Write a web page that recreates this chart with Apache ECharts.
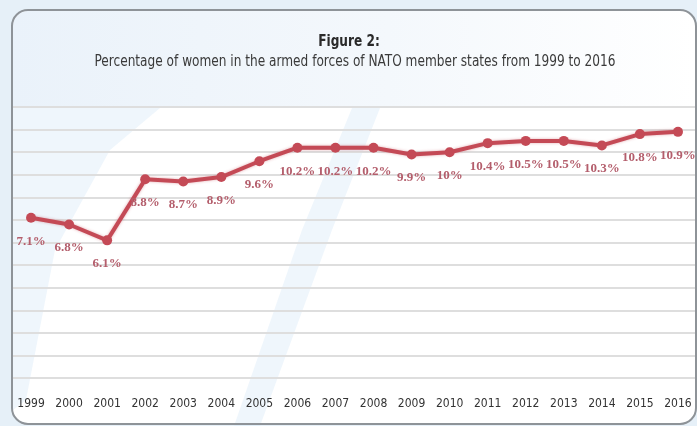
<!DOCTYPE html>
<html>
<head>
<meta charset="utf-8">
<script src="https://cdn.jsdelivr.net/npm/echarts@6/dist/echarts.min.js"></script>
<style>
  html, body { margin: 0; padding: 0; background: #ffffff; }
  #chart { width: 697px; height: 426px; }
</style>
</head>
<body>
<div id="chart"></div>
<script>
// Years on the horizontal axis
const years = ['1999', '2000', '2001', '2002', '2003', '2004', '2005', '2006', '2007',
  '2008', '2009', '2010', '2011', '2012', '2013', '2014', '2015', '2016'];
// Share of women in the armed forces (%)
const womenShare = [7.1, 6.8, 6.1, 8.8, 8.7, 8.9, 9.6, 10.2, 10.2,
  10.2, 9.9, 10, 10.4, 10.5, 10.5, 10.3, 10.8, 10.9];

const titleText = 'Figure 2:';
const subtitleText = 'Percentage of women in the armed forces of NATO member states from 1999 to 2016';

const narrow = "'DejaVu Sans Condensed', 'Liberation Sans Narrow', sans-serif";
const serif = "'Liberation Serif', 'DejaVu Serif', serif";

const chart = echarts.init(document.getElementById('chart'), null, { renderer: 'canvas' });

chart.setOption({
  backgroundColor: '#ffffff',
  animation: false,
  graphic: [
    // page backdrop around the panel
    { type: 'rect', z: -10, silent: true,
      shape: { x: 0, y: 0, width: 697, height: 426 },
      style: { fill: '#e6f0f8' } },
    // panel body
    { type: 'rect', z: -9, silent: true,
      shape: { x: 12, y: 10, width: 684, height: 414, r: 16 },
      style: { fill: '#ffffff' } },
    // tinted header band
    { type: 'rect', z: -8, silent: true,
      shape: { x: 13, y: 11, width: 682, height: 96, r: [15, 15, 0, 0] },
      style: { fill: new echarts.graphic.LinearGradient(0, 0, 1, 0, [
        { offset: 0, color: '#eaf2fa' }, { offset: 0.55, color: '#f4f8fc' }, { offset: 1, color: '#ffffff' }]) } },
    // faint decorative sweeps in the plot area
    { type: 'polygon', z: -7, silent: true,
      shape: { points: [[13, 108], [160, 108], [110, 150], [55, 250], [26, 400], [13, 410]] },
      style: { fill: 'rgba(220, 236, 248, 0.45)' } },
    { type: 'polygon', z: -7, silent: true,
      shape: { points: [[352, 108], [380, 108], [332, 230], [260, 426], [234, 426], [302, 230]] },
      style: { fill: 'rgba(220, 236, 248, 0.45)' } },
    // panel outline
    { type: 'rect', z: 10, silent: true,
      shape: { x: 12, y: 10, width: 684, height: 414, r: 16 },
      style: { fill: 'none', stroke: '#8e9398', lineWidth: 2 } },
    // heading, set in a condensed face
    { type: 'text', z: 20, silent: true, x: 349, y: 35, scaleX: 0.9,
      style: { text: titleText, textAlign: 'center', textVerticalAlign: 'top',
        fontFamily: narrow, fontSize: 15, fontWeight: 'bold', fill: '#2a2a2a' } },
    { type: 'text', z: 20, silent: true, x: 355, y: 55, scaleX: 0.9,
      style: { text: subtitleText, textAlign: 'center', textVerticalAlign: 'top',
        fontFamily: narrow, fontSize: 15, fill: '#3a3a3a' } }
  ],
  grid: {
    left: 12,
    top: 107,
    width: 688.9,
    height: 271.2
  },
  xAxis: {
    type: 'category',
    data: years,
    boundaryGap: true,
    axisLine: { show: true, lineStyle: { color: '#dedede', width: 2 } },
    axisTick: { show: false },
    axisLabel: { interval: 0, fontFamily: narrow, fontSize: 12, color: '#333333', margin: 20 },
    splitLine: { show: false }
  },
  yAxis: {
    type: 'value',
    min: 0,
    max: 12,
    interval: 1,
    axisLine: { show: false },
    axisTick: { show: false },
    axisLabel: { show: false },
    splitLine: { show: true, lineStyle: { color: '#dedede', width: 2 } }
  },
  series: [{
    type: 'line',
    data: womenShare,
    symbol: 'circle',
    symbolSize: 10,
    z: 5,
    lineStyle: { color: '#c44a56', width: 4, shadowColor: 'rgba(196,74,86,0.45)', shadowBlur: 3 },
    itemStyle: { color: '#c44a56' },
    label: {
      show: true,
      position: 'bottom',
      distance: 12,
      formatter: p => p.value + '%',
      fontFamily: serif,
      fontWeight: 'bold',
      fontSize: 13,
      color: '#b45e6c'
    }
  }]
});
</script>
</body>
</html>
